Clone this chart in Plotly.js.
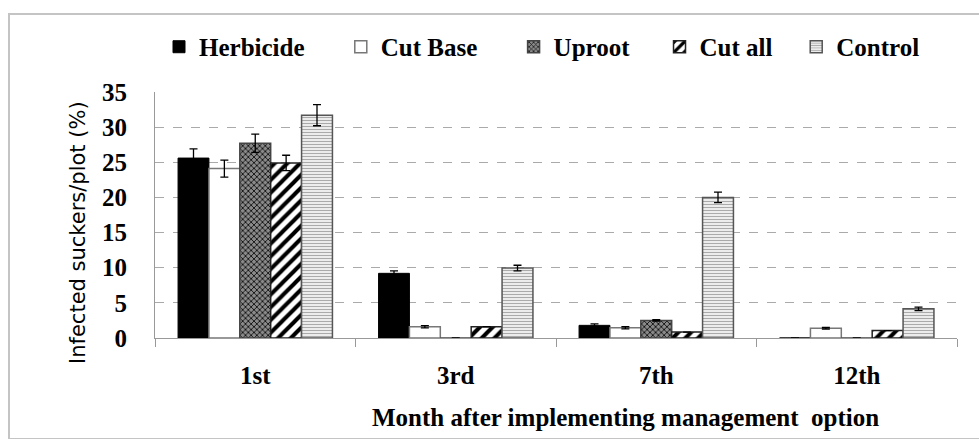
<!DOCTYPE html>
<html>
<head>
<meta charset="utf-8">
<script src="https://cdn.plot.ly/plotly-3.0.1.min.js"></script>
<style>
  html, body { margin: 0; padding: 0; background: #fff; }
  #chart { width: 979px; height: 439px; }
  #frame { position: absolute; left: 8px; top: 13px; width: 1000px; height: 423px;
           border: 2px solid #c4c4c4; pointer-events: none; }
</style>
</head>
<body>
<div id="chart"></div>
<div id="frame"></div>
<script>
const months = ["1st", "3rd", "7th", "12th"];
const seriesNames = ["Herbicide", "Cut Base", "Uproot", "Cut all", "Control"];

const herbicide = [25.6, 9.2, 1.8, 0];
const cutBase   = [24.1, 1.6, 1.45, 1.4];
const uproot    = [27.7, 0, 2.5, 0];
const cutAll    = [24.9, 1.6, 0.85, 1.05];
const control   = [31.7, 9.95, 20.0, 4.15];

const herbicideErr = [1.3, 0.35, 0.2, 0];
const cutBaseErr   = [1.2, 0.15, 0.15, 0.12];
const uprootErr    = [1.3, 0, 0.1, 0];
const cutAllErr    = [1.1, 0, 0, 0];
const controlErr   = [1.5, 0.4, 0.75, 0.25];

const yTitle = "Infected suckers/plot (%)";
const xTitle = "Month after implementing management  option";

const SERIF = "Liberation Serif";
const padCounts = [5, 5, 4, 3, 0];

function err(a) {
  return { type: "data", array: a, visible: true, color: "#000", thickness: 1.3, width: 4 };
}

const styles = [
  { marker: { color: "#000", line: { color: "#000", width: 1 } } },
  { marker: { color: "#fff", line: { color: "#777", width: 1.5 } } },
  { marker: { color: "#555", line: { color: "#444", width: 1.5 },
      pattern: { shape: "x", fgcolor: "#111", bgcolor: "#8a8a8a", size: 4, solidity: 0.4 } } },
  { marker: { color: "#fff", line: { color: "#222", width: 1.5 },
      pattern: { shape: "/", fgcolor: "#000", bgcolor: "#fff", size: 9, solidity: 0.45 } } },
  { marker: { color: "#ddd", line: { color: "#555", width: 1.5 },
      pattern: { shape: "-", fgcolor: "#aaa", bgcolor: "#ececec", size: 3, solidity: 0.35 } } }
];

const vals = [herbicide, cutBase, uproot, cutAll, control];
const errs = [herbicideErr, cutBaseErr, uprootErr, cutAllErr, controlErr];

const data = seriesNames.map((n, i) => Object.assign({
  type: "bar",
  name: n + "\u00a0".repeat(padCounts[i]),
  x: months,
  y: vals[i],
  error_y: err(errs[i])
}, styles[i]));

const layout = {
  width: 979, height: 439,
  margin: { l: 155, r: 22, t: 92, b: 101 },
  paper_bgcolor: "#fff", plot_bgcolor: "#fff",
  barmode: "group", bargap: 0.23, bargroupgap: 0,
  font: { family: SERIF, color: "#000" },
  showlegend: true,
  legend: {
    orientation: "h", x: 0.005, xanchor: "left", y: 1.183, yanchor: "middle",
    font: { family: SERIF, size: 25, color: "#000", weight: "bold" },
    bgcolor: "rgba(0,0,0,0)"
  },
  xaxis: {
    type: "category",
    tickson: "boundaries", ticks: "outside", ticklen: 8, tickcolor: "#999",
    showline: true, linecolor: "#999", linewidth: 1,
    showgrid: false,
    tickfont: { family: SERIF, size: 25, weight: "bold" },
    ticklabelstandoff: 15
  },
  yaxis: {
    range: [0, 35], dtick: 5,
    showline: true, linecolor: "#999", linewidth: 1,
    showgrid: true, gridcolor: "#aaa", griddash: "dash", gridwidth: 1,
    zeroline: false, ticks: "",
    tickfont: { family: SERIF, size: 25, weight: "bold" },
    ticklabelstandoff: 22
  },
  annotations: [
    { text: xTitle, xref: "paper", yref: "paper", x: 0.587, y: -0.325,
      xanchor: "center", yanchor: "middle", showarrow: false,
      font: { family: SERIF, size: 25, weight: "bold" } },
    { text: yTitle, xref: "paper", yref: "paper", x: -0.096, y: 0.427,
      xanchor: "center", yanchor: "middle", showarrow: false, textangle: -90,
      font: { family: "DejaVu Sans", size: 21 } }
  ]
};

Plotly.newPlot("chart", data, layout, { displayModeBar: false, staticPlot: true });
</script>
</body>
</html>
